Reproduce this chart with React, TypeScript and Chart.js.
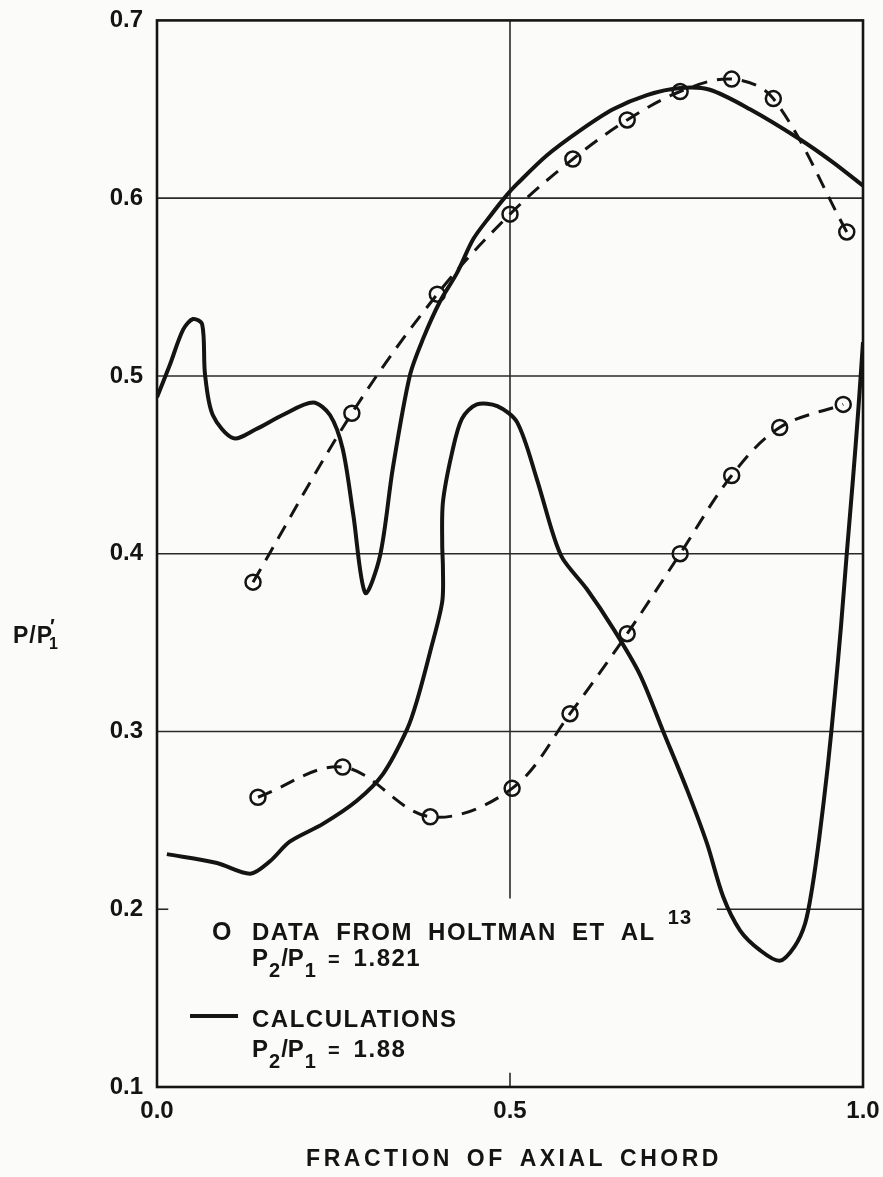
import React, { useEffect, useRef } from "react";
import { Chart, registerables } from "chart.js";

Chart.register(...registerables);

// ---- Data ----
const calcUpperX = [0.0, 0.018, 0.037, 0.051, 0.064, 0.068, 0.079, 0.108, 0.14, 0.178, 0.221, 0.245, 0.263, 0.278, 0.295, 0.316, 0.334, 0.358, 0.377, 0.401, 0.425, 0.448, 0.472, 0.496, 0.51, 0.552, 0.599, 0.646, 0.694, 0.741, 0.783, 0.84, 0.911, 0.958, 1.0];
const calcUpperY = [0.488, 0.506, 0.526, 0.532, 0.529, 0.501, 0.478, 0.465, 0.47, 0.478, 0.485, 0.478, 0.459, 0.422, 0.378, 0.399, 0.448, 0.5, 0.521, 0.542, 0.558, 0.577, 0.59, 0.602, 0.608, 0.624, 0.638, 0.65, 0.658, 0.662, 0.661, 0.65, 0.633, 0.62, 0.607];

const calcLowerX = [0.014, 0.085, 0.132, 0.16, 0.188, 0.235, 0.283, 0.32, 0.354, 0.368, 0.387, 0.404, 0.405, 0.404, 0.405, 0.418, 0.432, 0.453, 0.482, 0.51, 0.538, 0.561, 0.575, 0.609, 0.646, 0.684, 0.717, 0.751, 0.779, 0.802, 0.826, 0.854, 0.882, 0.903, 0.918, 0.928, 0.938, 0.95, 0.96, 0.969, 0.977, 0.986, 0.993, 1.0];
const calcLowerY = [0.231, 0.226, 0.22, 0.227, 0.238, 0.248, 0.261, 0.276, 0.301, 0.317, 0.345, 0.373, 0.392, 0.405, 0.429, 0.457, 0.476, 0.484, 0.483, 0.474, 0.442, 0.411, 0.397, 0.38, 0.358, 0.332, 0.3, 0.267, 0.237, 0.207, 0.188, 0.177, 0.171, 0.179, 0.192, 0.212, 0.24, 0.28, 0.32, 0.36, 0.4, 0.443, 0.479, 0.519];

const dataUpperX = [0.136, 0.276, 0.397, 0.5, 0.589, 0.666, 0.741, 0.814, 0.873, 0.977];
const dataUpperY = [0.384, 0.479, 0.546, 0.591, 0.622, 0.644, 0.66, 0.667, 0.656, 0.581];

const dataLowerX = [0.143, 0.263, 0.387, 0.503, 0.585, 0.666, 0.741, 0.814, 0.882, 0.972];
const dataLowerY = [0.263, 0.28, 0.252, 0.268, 0.31, 0.355, 0.4, 0.444, 0.471, 0.484];

const xTicks = [0.0, 0.5, 1.0];
const yTicks = [0.1, 0.2, 0.3, 0.4, 0.5, 0.6, 0.7];

const xTitle = "FRACTION OF AXIAL CHORD";
const legendData = "DATA FROM HOLTMAN ET AL";
const legendDataRef = "13";
const legendDataRatio = "1.821";
const legendCalc = "CALCULATIONS";
const legendCalcRatio = "1.88";

const FONT = '"Liberation Sans", Arial, sans-serif';
const INK = "#141414";

const pts = (xs: number[], ys: number[]) => xs.map((x, i) => ({ x, y: ys[i] }));

type Run = { t: string; s: number; dy?: number; ls?: number; ws?: number; gap?: number };

function drawRuns(ctx: CanvasRenderingContext2D, x: number, y: number, runs: Run[]) {
  let cx = x;
  for (const r of runs) {
    ctx.font = `bold ${r.s}px ${FONT}`;
    (ctx as any).letterSpacing = `${r.ls ?? 0}px`;
    (ctx as any).wordSpacing = `${r.ws ?? 0}px`;
    cx += r.gap ?? 0;
    ctx.fillText(r.t, cx, y + (r.dy ?? 0));
    cx += ctx.measureText(r.t).width;
  }
  (ctx as any).letterSpacing = "0px";
  (ctx as any).wordSpacing = "0px";
  return cx;
}

const decorPlugin = {
  id: "decor",
  beforeDraw(chart: any) {
    const ctx = chart.ctx;
    ctx.save();
    ctx.fillStyle = "#fbfbfa";
    ctx.fillRect(0, 0, chart.width, chart.height);
    ctx.restore();
  },
  beforeDatasetsDraw(chart: any) {
    const ctx = chart.ctx;
    const xs = chart.scales.x;
    const ys = chart.scales.y;
    ctx.save();
    ctx.strokeStyle = "#2a2a2a";
    ctx.lineWidth = 1.6;
    const hline = (v: number, a: number, b: number) => {
      const y = ys.getPixelForValue(v);
      ctx.beginPath();
      ctx.moveTo(xs.getPixelForValue(a), y);
      ctx.lineTo(xs.getPixelForValue(b), y);
      ctx.stroke();
    };
    const vline = (v: number, a: number, b: number) => {
      const x = xs.getPixelForValue(v);
      ctx.beginPath();
      ctx.moveTo(x, ys.getPixelForValue(a));
      ctx.lineTo(x, ys.getPixelForValue(b));
      ctx.stroke();
    };
    [0.3, 0.4, 0.5, 0.6].forEach((v) => hline(v, 0, 1));
    hline(0.2, 0.793, 1);
    hline(0.2, 0, 0.016);
    vline(0.5, 0.7, 0.206);
    vline(0.5, 0.1, 0.108);
    ctx.restore();
  },
  afterDraw(chart: any) {
    const ctx = chart.ctx;
    const { left, right, top, bottom } = chart.chartArea;
    ctx.save();
    // frame
    ctx.strokeStyle = INK;
    ctx.lineWidth = 2.6;
    ctx.strokeRect(left, top, right - left, bottom - top);

    ctx.fillStyle = INK;
    ctx.textBaseline = "alphabetic";
    ctx.textAlign = "left";

    // legend
    drawRuns(ctx, 212, 940, [{ t: "O", s: 25 }]);
    drawRuns(ctx, 252, 940, [
      { t: legendData, s: 24, ls: 1.5, ws: 7 },
      { t: legendDataRef, s: 20, dy: -16, gap: 12, ls: 1 },
    ]);
    const ratio = (y: number, val: string) =>
      drawRuns(ctx, 252, y, [
        { t: "P", s: 24 },
        { t: "2", s: 20, dy: 11, gap: 1 },
        { t: "/P", s: 24, gap: 1 },
        { t: "1", s: 20, dy: 11, gap: 1 },
        { t: "=", s: 20, gap: 12 },
        { t: val, s: 24, gap: 14, ls: 1.5 },
      ]);
    ratio(966, legendDataRatio);
    ctx.strokeStyle = INK;
    ctx.lineWidth = 4;
    ctx.beginPath();
    ctx.moveTo(190, 1016);
    ctx.lineTo(238, 1016);
    ctx.stroke();
    drawRuns(ctx, 252, 1027, [{ t: legendCalc, s: 24, ls: 1.5 }]);
    ratio(1057, legendCalcRatio);

    // y title
    const w = drawRuns(ctx, 13, 643, [{ t: "P/P", s: 23, ls: 1 }]);
    drawRuns(ctx, w - 3, 633, [{ t: "\u2032", s: 20 }]);
    drawRuns(ctx, w - 4, 649, [{ t: "1", s: 16 }]);

    // x title
    ctx.font = `bold 23px ${FONT}`;
    (ctx as any).letterSpacing = "3.5px";
    (ctx as any).wordSpacing = "4px";
    ctx.textAlign = "center";
    ctx.fillText(xTitle, 514, 1166);
    ctx.restore();
  },
};

export default function App() {
  const ref = useRef<HTMLCanvasElement | null>(null);
  useEffect(() => {
    if (!ref.current) return;
    const tickFont = { family: FONT, size: 24, weight: "bold" as const };
    const chart = new Chart(ref.current, {
      type: "line",
      data: {
        datasets: [
          {
            label: "calc upper",
            data: pts(calcUpperX, calcUpperY),
            borderColor: INK,
            borderWidth: 4,
            pointRadius: 0,
            tension: 0.3,
            fill: false,
          },
          {
            label: "calc lower",
            data: pts(calcLowerX, calcLowerY),
            borderColor: INK,
            borderWidth: 4,
            pointRadius: 0,
            tension: 0.3,
            fill: false,
          },
          {
            label: "data upper",
            data: pts(dataUpperX, dataUpperY),
            borderColor: INK,
            borderWidth: 3,
            borderDash: [15, 10],
            pointRadius: 7.5,
            pointBorderWidth: 2.5,
            pointBorderColor: INK,
            pointBackgroundColor: "rgba(0,0,0,0)",
            tension: 0.35,
            fill: false,
          },
          {
            label: "data lower",
            data: pts(dataLowerX, dataLowerY),
            borderColor: INK,
            borderWidth: 3,
            borderDash: [15, 10],
            pointRadius: 7.5,
            pointBorderWidth: 2.5,
            pointBorderColor: INK,
            pointBackgroundColor: "rgba(0,0,0,0)",
            tension: 0.35,
            fill: false,
          },
        ],
      },
      options: {
        responsive: false,
        animation: false,
        layout: { padding: { top: 18, right: 20, left: 0, bottom: 0 } },
        plugins: { legend: { display: false }, tooltip: { enabled: false } },
        scales: {
          x: {
            type: "linear",
            min: 0,
            max: 1,
            afterBuildTicks: (s: any) => {
              s.ticks = xTicks.map((v) => ({ value: v }));
            },
            ticks: {
              font: tickFont,
              color: INK,
              padding: 2,
              callback: (v: any) => Number(v).toFixed(1),
            },
            grid: { display: false },
            border: { display: false },
            afterFit: (s: any) => {
              s.height = 90;
            },
          },
          y: {
            type: "linear",
            min: 0.1,
            max: 0.7,
            afterBuildTicks: (s: any) => {
              s.ticks = yTicks.map((v) => ({ value: v }));
            },
            ticks: {
              font: tickFont,
              color: INK,
              padding: 6,
              callback: (v: any) => Number(v).toFixed(1),
            },
            grid: { display: false },
            border: { display: false },
            afterFit: (s: any) => {
              s.width = 157;
            },
          },
        },
      },
      plugins: [decorPlugin],
    });
    return () => chart.destroy();
  }, []);
  return (
    <div style={{ position: "absolute", left: 0, top: 0, width: 883, height: 1177 }}>
      <canvas ref={ref} width={883} height={1177} style={{ display: "block" }} />
    </div>
  );
}
